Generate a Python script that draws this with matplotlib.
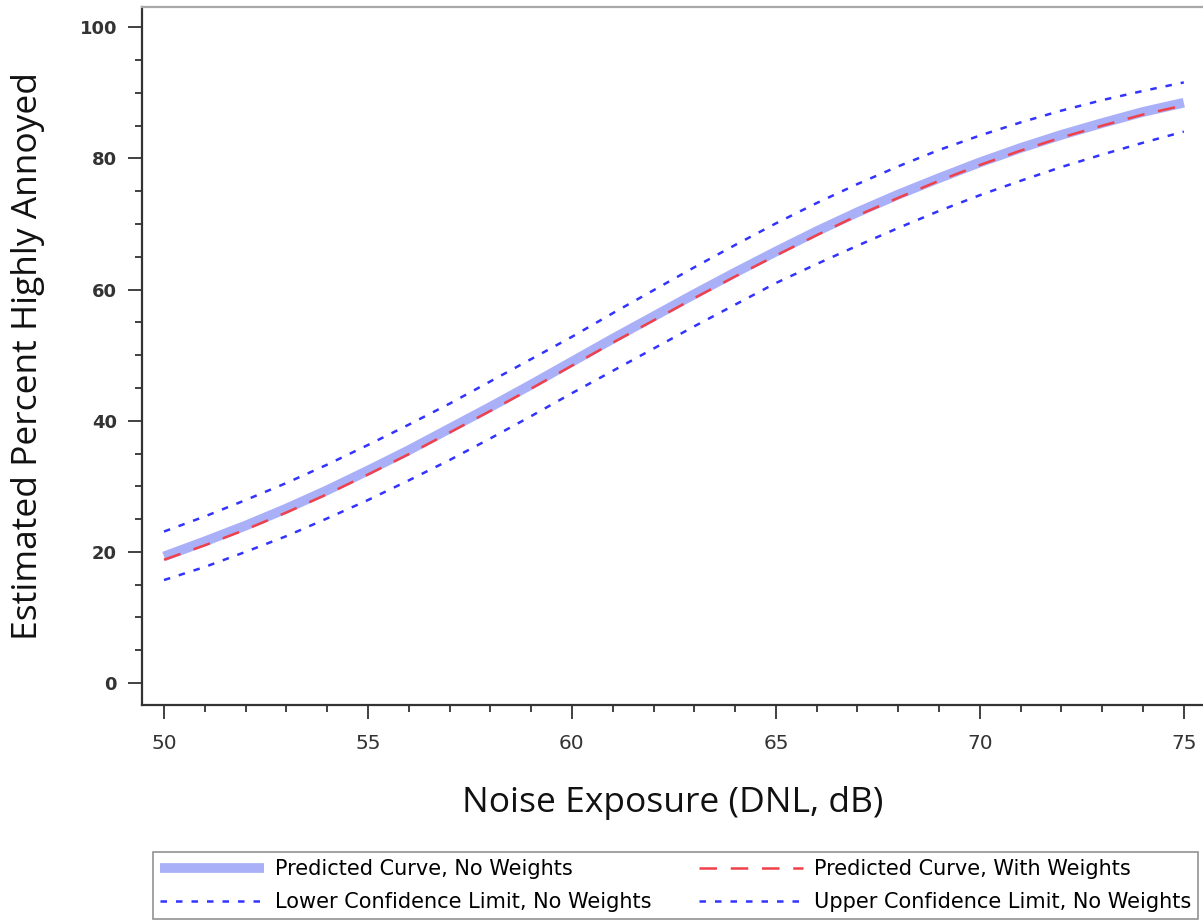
import matplotlib
matplotlib.use("Agg")
import matplotlib.pyplot as plt
from matplotlib.ticker import MultipleLocator

# values, one per dB
dnl = list(range(50, 76))
pred_noweights = [19.3, 21.6, 24.0, 26.6, 29.4, 32.4, 35.5, 38.8, 42.1, 45.5,
                  49.0, 52.5, 55.9, 59.3, 62.6, 65.8, 68.9, 71.8, 74.5, 77.0,
                  79.4, 81.6, 83.6, 85.4, 87.1, 88.5]
pred_weights = [18.8, 21.0, 23.4, 26.0, 28.8, 31.8, 34.9, 38.2, 41.5, 44.9,
                48.4, 51.9, 55.3, 58.7, 62.0, 65.2, 68.3, 71.3, 74.0, 76.6,
                79.0, 81.2, 83.2, 85.0, 86.7, 88.1]
upper_cl = [23.1, 25.4, 27.9, 30.5, 33.3, 36.3, 39.4, 42.6, 46.0, 49.4,
            52.8, 56.4, 59.9, 63.4, 66.8, 70.1, 73.2, 76.1, 78.8, 81.3,
            83.5, 85.5, 87.3, 88.9, 90.3, 91.6]
lower_cl = [15.7, 17.7, 20.0, 22.4, 25.1, 27.9, 30.9, 34.0, 37.3, 40.7,
            44.2, 47.6, 51.0, 54.4, 57.7, 61.0, 63.9, 66.7, 69.4, 72.0,
            74.4, 76.6, 78.7, 80.6, 82.4, 84.1]

labels = ["Predicted Curve, No Weights", "Predicted Curve, With Weights",
          "Lower Confidence Limit, No Weights", "Upper Confidence Limit, No Weights"]

fig = plt.figure(figsize=(12.03, 9.22), dpi=100)
ax = fig.add_axes([0.118, 0.2354, 0.882, 0.757])

h_pred, = ax.plot(dnl, pred_noweights, color="#aab0f7", lw=7, solid_capstyle="butt")
h_w, = ax.plot(dnl, pred_weights, color="#f0404a", lw=1.8, dashes=(7, 5.5))
h_lo, = ax.plot(dnl, lower_cl, color="#3333ff", lw=1.8, dashes=(2.6, 3.6))
h_up, = ax.plot(dnl, upper_cl, color="#3333ff", lw=1.8, dashes=(2.6, 3.6))

ax.set_xlim(49.46, 75.47)
ax.set_ylim(-3.35, 103.1)
ax.xaxis.set_major_locator(MultipleLocator(5))
ax.xaxis.set_minor_locator(MultipleLocator(1))
ax.yaxis.set_major_locator(MultipleLocator(20))
ax.yaxis.set_minor_locator(MultipleLocator(5))

for s in ("left", "bottom"):
    ax.spines[s].set_linewidth(1.6)
    ax.spines[s].set_color("#333333")
ax.spines["top"].set_color("#a8a8a8")
ax.spines["top"].set_linewidth(1.6)
ax.spines["right"].set_visible(False)

ax.tick_params(which="major", length=10, width=1.3, color="#333333",
               labelcolor="#333333")
ax.tick_params(which="minor", length=5, width=1.3, color="#333333")
ax.tick_params(axis="x", which="major", pad=11, labelsize=14.5)
ax.tick_params(axis="y", which="major", pad=8, labelsize=13)
for t in ax.get_yticklabels():
    t.set_fontweight("bold")

ax.set_xlabel("Noise Exposure (DNL, dB)", fontsize=25.5, family="Open Sans",
              labelpad=24, color="#111111")
ax.set_ylabel("Estimated Percent Highly Annoyed", fontsize=25.5, family="Open Sans",
              labelpad=25, color="#111111")

leg = fig.legend([h_pred, h_lo, h_w, h_up], [labels[0], labels[2], labels[1], labels[3]],
                 ncol=2, loc="lower left", bbox_to_anchor=(0.127, 0.003, 0.869, 0.073),
                 mode="expand", borderaxespad=0, fancybox=False, handlelength=5.0,
                 prop={"size": 15}, labelspacing=0.62, borderpad=0.35, handletextpad=0.5)
leg.get_frame().set_edgecolor("#777777")
leg.get_frame().set_linewidth(1.2)

fig.savefig("out.png", dpi=100)
